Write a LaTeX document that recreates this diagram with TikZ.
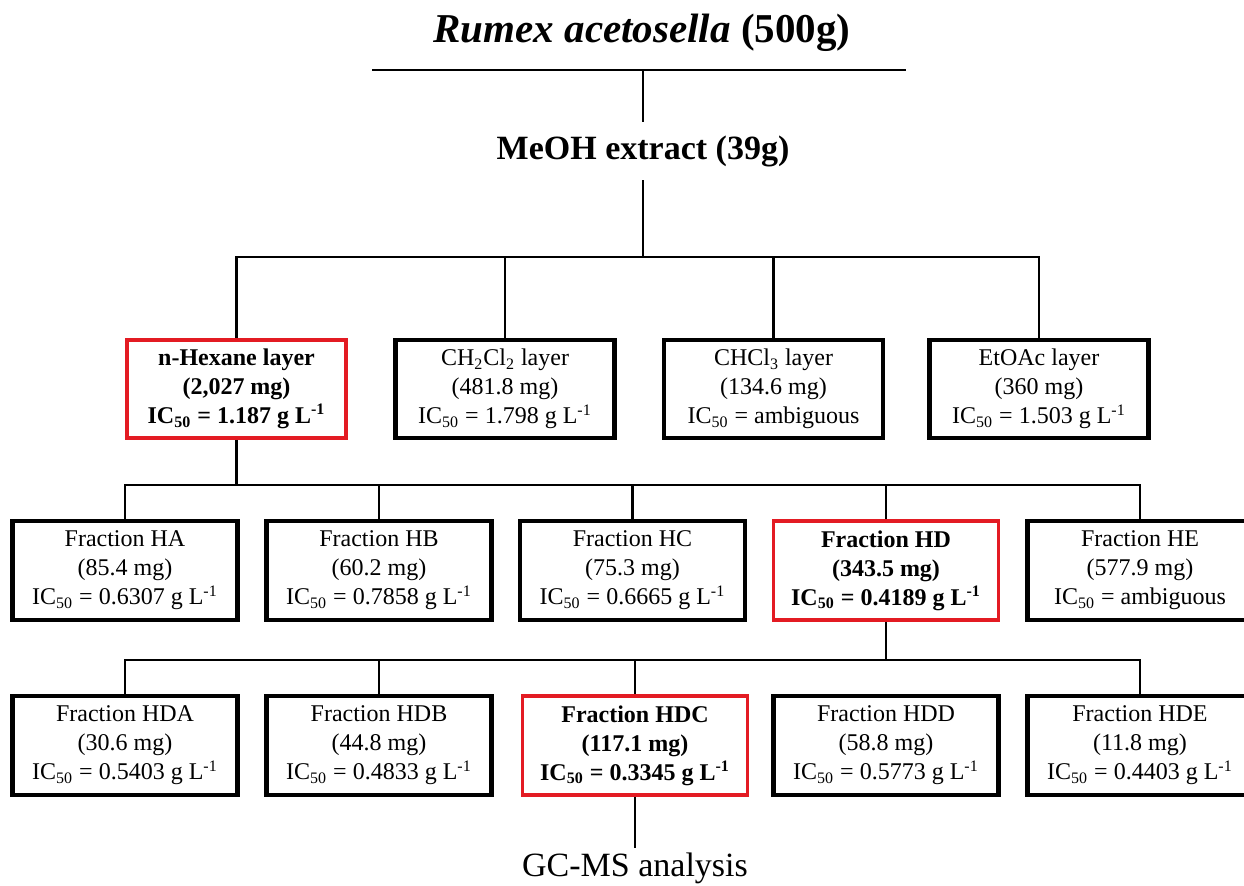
\documentclass[tikz,border=0pt]{standalone}
\usepackage{fontspec}
\setmainfont{Liberation Serif}
\usetikzlibrary{positioning}
\definecolor{hitred}{HTML}{E31B23}

\begin{document}
\begin{tikzpicture}[x=0.5pt,y=-0.5pt,
  box/.style={draw,line width=2.2pt,align=center,inner sep=0pt,font=\fontsize{12}{14.5}\selectfont},
  layerbox/.style={box,minimum width=109.5pt,minimum height=49pt},
  fracbox/.style={box,minimum width=112.5pt,minimum height=49.5pt},
  hit/.style={draw=hitred,line width=1.8pt,font=\fontsize{12}{14.5}\selectfont\bfseries},
  link/.style={line width=1.1pt}]
\useasboundingbox (0,0) rectangle (1244,885);
% source and extract
\node (rumex) at(642,33) {\fontsize{20.5}{24}\selectfont\bfseries\textit{Rumex acetosella} (500g)};
\coordinate (rl) at(372,70);\coordinate (rr) at(906,70);\coordinate (top) at(643,70);
\node (meoh) [inner sep=0pt,minimum height=29pt,font=\fontsize{17}{20}\selectfont\bfseries] at(643,151) {MeOH extract (39g)};
\draw[link] (rl)--(rr);
\draw[link] (top)--(meoh.north);
% solvent layers
\node[layerbox,hit] (hex) at(236.5,389) {n-Hexane layer\\(2,027 mg)\\IC\textsubscript{50} = 1.187 g L\textsuperscript{-1}};
\node[layerbox] (dcm) at(505,389) {CH\textsubscript{2}Cl\textsubscript{2} layer\\(481.8 mg)\\IC\textsubscript{50} = 1.798 g L\textsuperscript{-1}};
\node[layerbox] (chl) at(773.5,389) {CHCl\textsubscript{3} layer\\(134.6 mg)\\IC\textsubscript{50} = ambiguous};
\node[layerbox] (eto) at(1039,389) {EtOAc layer\\(360 mg)\\IC\textsubscript{50} = 1.503 g L\textsuperscript{-1}};
\coordinate (fork1) at(643,257);
\draw[link] (meoh.south)--(fork1);
\draw[link] (hex.north) |- (fork1) -| (eto.north);
\foreach \n in {dcm,chl} \draw[link] (\n.north)--(\n.north|-fork1);
% n-hexane fractions
\node[fracbox] (ha) at(125,570.5) {Fraction HA\\(85.4 mg)\\IC\textsubscript{50} = 0.6307 g L\textsuperscript{-1}};
\node[fracbox] (hb) at(379,570.5) {Fraction HB\\(60.2 mg)\\IC\textsubscript{50} = 0.7858 g L\textsuperscript{-1}};
\node[fracbox] (hc) at(632.5,570.5) {Fraction HC\\(75.3 mg)\\IC\textsubscript{50} = 0.6665 g L\textsuperscript{-1}};
\node[fracbox,hit] (hd) at(886,570.5) {Fraction HD\\(343.5 mg)\\IC\textsubscript{50} = 0.4189 g L\textsuperscript{-1}};
\node[fracbox] (he) at(1140,570.5) {Fraction HE\\(577.9 mg)\\IC\textsubscript{50} = ambiguous};
\coordinate (fork2) at(236.5,485);
\draw[link] (hex.south)--(fork2);
\draw[link] (ha.north) |- (fork2) -| (he.north);
\foreach \n in {hb,hc,hd} \draw[link] (\n.north)--(\n.north|-fork2);
% HD subfractions
\node[fracbox] (hda) at(125,745.5) {Fraction HDA\\(30.6 mg)\\IC\textsubscript{50} = 0.5403 g L\textsuperscript{-1}};
\node[fracbox] (hdb) at(379,745.5) {Fraction HDB\\(44.8 mg)\\IC\textsubscript{50} = 0.4833 g L\textsuperscript{-1}};
\node[fracbox,hit] (hdc) at(635,745.5) {Fraction HDC\\(117.1 mg)\\IC\textsubscript{50} = 0.3345 g L\textsuperscript{-1}};
\node[fracbox] (hdd) at(886,745.5) {Fraction HDD\\(58.8 mg)\\IC\textsubscript{50} = 0.5773 g L\textsuperscript{-1}};
\node[fracbox] (hde) at(1140,745.5) {Fraction HDE\\(11.8 mg)\\IC\textsubscript{50} = 0.4403 g L\textsuperscript{-1}};
\coordinate (fork3) at(886,660);
\draw[link] (hd.south)--(fork3);
\draw[link] (hda.north) |- (fork3) -| (hde.north);
\foreach \n in {hdb,hdc} \draw[link] (\n.north)--(\n.north|-fork3);
% analysis
\node (gcms) [anchor=north,inner sep=2pt,font=\fontsize{17}{20}\selectfont] at(635,848) {GC-MS analysis};
\draw[link] (hdc.south)--(gcms.north);
\end{tikzpicture}
\end{document}
